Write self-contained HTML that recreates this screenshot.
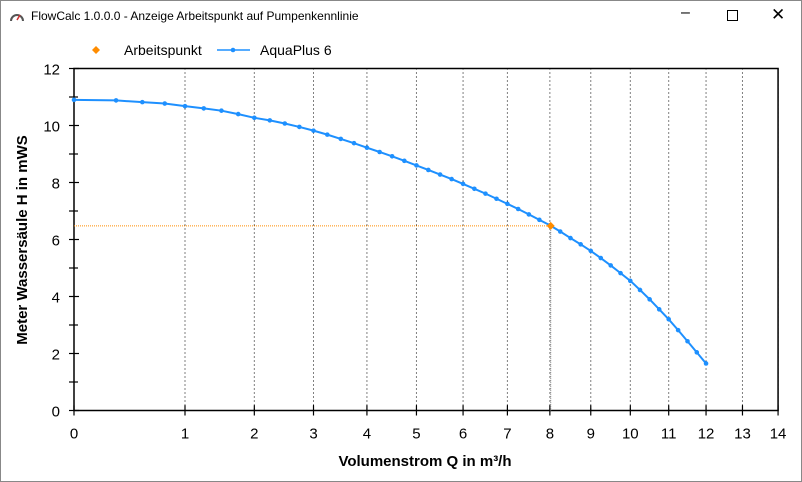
<!DOCTYPE html>
<html><head><meta charset="utf-8"><style>
body{margin:0;width:802px;height:482px;background:#fff;font-family:"Liberation Sans",Arial,sans-serif;overflow:hidden;position:relative}
#win{position:absolute;left:0;top:0;width:800px;height:480px;border:1px solid #888;}
#titlebar{height:31px;position:relative}
#title{position:absolute;left:30px;top:8px;font-size:12px;color:#000}
</style></head><body>
<div id="win">
<div id="titlebar">
<svg width="16" height="14" style="position:absolute;left:8px;top:9px"><path d="M2 11 A6 6 0 1 1 14 11" fill="none" stroke="#555" stroke-width="2"/><path d="M8 10 L11 5" stroke="#c33" stroke-width="1.5"/></svg>
<span id="title">FlowCalc 1.0.0.0 - Anzeige Arbeitspunkt auf Pumpenkennlinie</span>
<span style="position:absolute;left:680px;top:3px;font-size:16px">&#8211;</span>
<span style="position:absolute;left:726px;top:9px;width:9px;height:9px;border:1px solid #000"></span>
<span style="position:absolute;left:770px;top:4px;font-size:17px">&#10005;</span>
</div>
</div>
<svg id="chart" width="802" height="482" style="position:absolute;left:0;top:0"></svg>
<script>
const qValues=[0,0.25,0.5,0.75,1,1.25,1.5,1.75,2,2.25,2.5,2.75,3,3.25,3.5,3.75,4,4.25,4.5,4.75,5,5.25,5.5,5.75,6,6.25,6.5,6.75,7,7.25,7.5,7.75,8,8.25,8.5,8.75,9,9.25,9.5,9.75,10,10.25,10.5,10.75,11,11.25,11.5,11.75,12];
const hValues=[10.90,10.88,10.82,10.77,10.68,10.60,10.52,10.40,10.27,10.18,10.07,9.95,9.82,9.68,9.53,9.38,9.22,9.07,8.92,8.76,8.60,8.44,8.28,8.12,7.95,7.78,7.61,7.43,7.25,7.07,6.88,6.69,6.50,6.28,6.05,5.83,5.60,5.35,5.09,4.82,4.55,4.23,3.90,3.55,3.20,2.82,2.43,2.04,1.65];
const opQ=[8.02];
const opH=[6.48];
const xTicks=[0,1,2,3,4,5,6,7,8,9,10,11,12,13,14];
const yTicks=[0,2,4,6,8,10,12];
const X=q=>74+111*Math.pow(q,0.7);
const Y=h=>410.5-h*28.5;
const svg=document.getElementById('chart');
const NS='http://www.w3.org/2000/svg';
function mk(t,a,p){const e=document.createElementNS(NS,t);for(const k in a)e.setAttribute(k,a[k]);(p||svg).appendChild(e);return e;}
const x0=74,x1=X(14),yb=Y(0),yt=Y(12);
// grid
xTicks.forEach(q=>{if(q===0)return;const g=mk('line',{x1:X(q),x2:X(q),y1:yt,y2:yb,stroke:'#000','stroke-dasharray':'1,3'});

});
// frame
const fr=mk('rect',{x:x0,y:yt,width:x1-x0,height:yb-yt,fill:'none',stroke:'#000','stroke-width':1.5});


// x ticks
xTicks.forEach(q=>{mk('line',{x1:X(q),x2:X(q),y1:yb-5,y2:yb+5,stroke:'#000','stroke-width':1.2});
const t=mk('text',{x:X(q),y:yb+28,'text-anchor':'middle','font-size':15});t.textContent=q;

});
// y ticks
for(let h=0;h<=12;h++){mk('line',{x1:x0-5,x2:x0+(h%2?4:5),y1:Y(h),y2:Y(h),stroke:'#000','stroke-width':1.2});}
yTicks.forEach(h=>{const t=mk('text',{x:x0-14,y:Y(h)+6,'text-anchor':'end','font-size':15});t.textContent=h;

});
// op lines
const hl=mk('line',{x1:x0,x2:X(opQ[0]),y1:Y(opH[0]),y2:Y(opH[0]),stroke:'#ff8c00','stroke-dasharray':'1,1'});


const vl=mk('line',{x1:X(opQ[0]),x2:X(opQ[0]),y1:Y(opH[0]),y2:yb,stroke:'#888','stroke-dasharray':'1,1'});


// curve
const pl=mk('polyline',{points:qValues.map((q,i)=>X(q)+','+Y(hValues[i])).join(' '),fill:'none',stroke:'#1e90ff','stroke-width':2});


qValues.forEach((q,i)=>{const c=mk('circle',{cx:X(q),cy:Y(hValues[i]),r:2.3,fill:'#1e90ff'});

});
// op point
opQ.forEach((q,i)=>{const x=X(q),y=Y(opH[i]);const d=mk('path',{d:`M${x} ${y-4}L${x+4} ${y}L${x} ${y+4}L${x-4} ${y}Z`,fill:'#ff8c00'});

});
// legend
const lg=mk('g',{});
mk('path',{d:'M96 46L100 50L96 54L92 50Z',fill:'#ff8c00'},lg);
let t=mk('text',{x:124,y:55,'font-size':14},lg);t.textContent='Arbeitspunkt';
mk('line',{x1:217,x2:250,y1:50,y2:50,stroke:'#1e90ff','stroke-width':1.5},lg);
mk('circle',{cx:233,cy:50,r:2.3,fill:'#1e90ff'},lg);
t=mk('text',{x:260,y:55,'font-size':14},lg);t.textContent='AquaPlus 6';
// axis titles
t=mk('text',{x:425,y:466,'text-anchor':'middle','font-size':15,'font-weight':'bold'});t.textContent='Volumenstrom Q in m³/h';


t=mk('text',{x:0,y:0,'text-anchor':'middle','font-size':15,'font-weight':'bold',transform:'translate(27,240) rotate(-90)'});t.textContent='Meter Wassersäule H in mWS';


</script>
</body></html>
